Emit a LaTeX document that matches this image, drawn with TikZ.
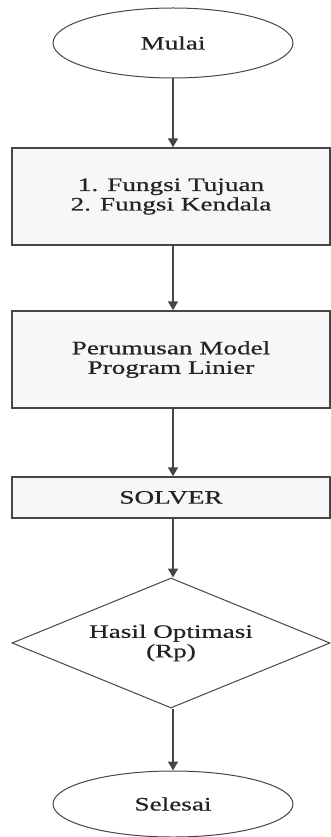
\documentclass[tikz,border=0pt]{standalone}
\usepackage{fontspec}
\setmainfont[FakeStretch=1.43,FakeBold=0.6]{Liberation Serif}
\usetikzlibrary{shapes.geometric,arrows.meta}
\definecolor{linec}{RGB}{70,70,70}
\definecolor{boxfill}{RGB}{246,247,249}
\definecolor{txt}{RGB}{35,35,35}
\tikzset{
  every node/.style={text=txt, font=\fontsize{19}{19.5}\selectfont},
  term/.style={ellipse, draw=linec, line width=1pt, fill=white, minimum width=240pt, minimum height=70pt, inner sep=0pt},
  procbox/.style={rectangle, draw=linec, line width=1.4pt, fill=boxfill, minimum width=318pt, inner sep=0pt, align=center},
  decide/.style={diamond, draw=linec, line width=1pt, fill=white, minimum width=318pt, minimum height=130pt, aspect=2.45, inner sep=0pt, align=center},
  flow/.style={draw=linec, line width=1.6pt, -{Triangle[length=9pt,width=10pt]}}
}
\begin{document}
\begin{tikzpicture}[x=1pt,y=-1pt]
\useasboundingbox (0,0) rectangle (331,837);
\node[term] (mulai) at (173,43) {Mulai};
\node[procbox, minimum height=97pt] (tujuan) at (171,196.5) {1. Fungsi Tujuan\\2. Fungsi Kendala};
\node[procbox, minimum height=97pt] (model) at (171,359.5) {Perumusan Model\\Program Linier};
\node[procbox, minimum height=41pt] (solver) at (171,497.5) {SOLVER};
\node[decide] (hasil) at (171,643) {Hasil Optimasi\\(Rp)};
\node[term, minimum height=66pt] (selesai) at (173,804) {Selesai};
\draw[flow] (mulai.south) -- (mulai.south |- tujuan.north);
\draw[flow] (tujuan.south -| mulai.south) -- (model.north -| mulai.south);
\draw[flow] (model.south -| mulai.south) -- (solver.north -| mulai.south);
\draw[flow] (solver.south -| mulai.south) -- (hasil.north -| mulai.south);
\draw[flow] (hasil.south -| mulai.south) -- (selesai.north);
\end{tikzpicture}
\end{document}
